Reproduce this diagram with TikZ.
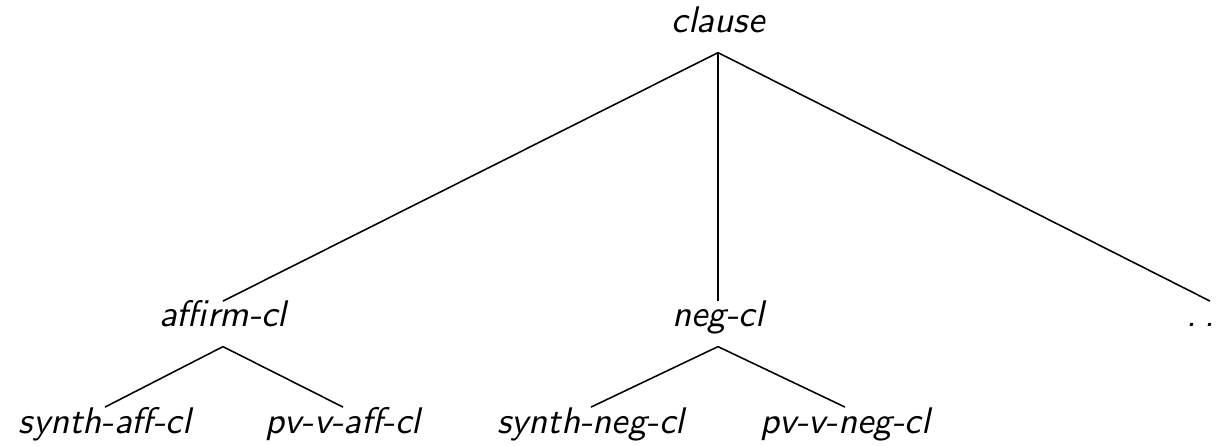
\documentclass[tikz,border=0pt]{standalone}
\begin{document}
\begin{tikzpicture}[x=0.27pt,y=-0.27pt,
  lbl/.style={inner sep=0pt,outer sep=0pt,text height=7pt,text depth=5.3pt,
    font=\sffamily\itshape,anchor=base},
  br/.style={line width=0.42pt}]
\useasboundingbox (0,0) rectangle (1224,446);
\node[lbl] (clause) at (718,33) {clause};
\node[lbl] (affirm) at (223,327) {affirm-cl};
\node[lbl] (neg) at (718,327) {neg-cl};
\node[lbl] (more) at (1210,327) {.\hspace{2.1pt}.\hspace{2.1pt}.};
\node[lbl] (saff) at (105,433) {synth-aff-cl};
\node[lbl] (pvaff) at (343,433) {pv-v-aff-cl};
\node[lbl] (sneg) at (591,433) {synth-neg-cl};
\node[lbl] (pvneg) at (845,433) {pv-v-neg-cl};
\draw[br] (clause.south) -- (affirm.north);
\draw[br] (clause.south) -- (neg.north);
\draw[br] (clause.south) -- (more.north);
\draw[br] (affirm.south) -- (saff.north);
\draw[br] (affirm.south) -- (pvaff.north);
\draw[br] (neg.south) -- (sneg.north);
\draw[br] (neg.south) -- (pvneg.north);
\end{tikzpicture}
\end{document}
